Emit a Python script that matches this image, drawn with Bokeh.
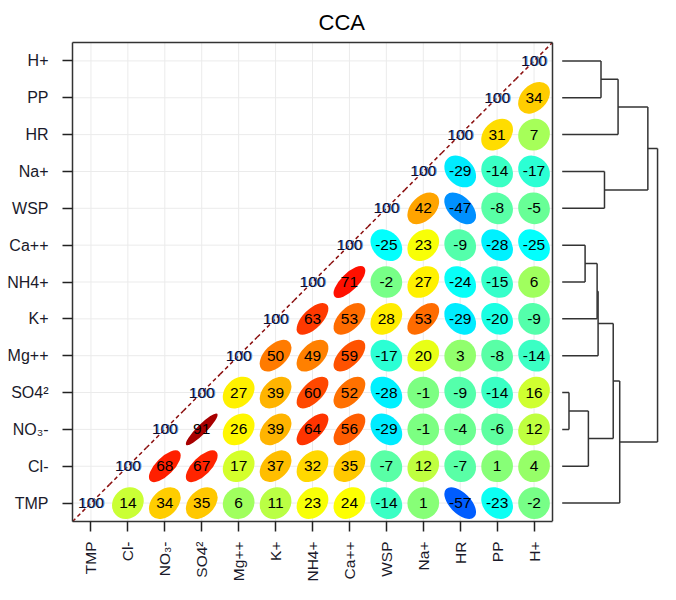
import numpy as np
from bokeh.plotting import figure
from bokeh.models import ColumnDataSource, Range1d, FixedTicker, LinearAxis, LinearColorMapper
from bokeh.transform import transform
from bokeh.core.properties import value
from bokeh.embed import file_html
from bokeh.resources import INLINE

# ---------------- data ----------------
variables = ["TMP", "Cl-", "NO₃-", "SO4²", "Mg++", "K+", "NH4+", "Ca++",
             "WSP", "Na+", "HR", "PP", "H+"]

# correlation x100; row i lists the values for columns i .. last
corr_rows = [
    [100, 14, 34, 35, 6, 11, 23, 24, -14, 1, -57, -23, -2],   # TMP
    [100, 68, 67, 17, 37, 32, 35, -7, 12, -7, 1, 4],          # Cl-
    [100, 91, 26, 39, 64, 56, -29, -1, -4, -6, 12],           # NO3-
    [100, 27, 39, 60, 52, -28, -1, -9, -14, 16],              # SO4
    [100, 50, 49, 59, -17, 20, 3, -8, -14],                   # Mg++
    [100, 63, 53, 28, 53, -29, -20, -9],                      # K+
    [100, 71, -2, 27, -24, -15, 6],                           # NH4+
    [100, -25, 23, -9, -28, -25],                             # Ca++
    [100, 42, -47, -8, -5],                                   # WSP
    [100, -29, -14, -17],                                     # Na+
    [100, 31, 7],                                             # HR
    [100, 34],                                                # PP
    [100],                                                    # H+
]

# hierarchical clustering merges: (member a, member b, height); cK = K-th merge
dend_merges = [
    ("SO4²", "NO₃-", 0.070),   # c0
    ("c0", "Cl-", 0.270),      # c1
    ("Ca++", "NH4+", 0.236),   # c2
    ("c2", "K+", 0.360),       # c3
    ("c3", "Mg++", 0.370),     # c4
    ("H+", "PP", 0.400),       # c5
    ("Na+", "WSP", 0.436),     # c6
    ("c4", "c1", 0.526),       # c7
    ("c5", "HR", 0.576),       # c8
    ("c7", "TMP", 0.593),      # c9
    ("c8", "c6", 0.883),       # c10
    ("c10", "c9", 0.983),      # c11
]

jet_stops = ["#00007F", "#0000FF", "#007FFF", "#00FFFF", "#7FFF7F",
             "#FFFF00", "#FF7F00", "#FF0000", "#7F0000"]


def interp_palette(stops, n):
    rgb = np.array([[int(s[k:k + 2], 16) for k in (1, 3, 5)] for s in stops], float)
    t = np.linspace(0, 1, len(stops))
    out = []
    for v in np.linspace(0, 1, n):
        c = [int(round(np.interp(v, t, rgb[:, m]))) for m in range(3)]
        out.append("#%02x%02x%02x" % tuple(c))
    return out


palette = interp_palette(jet_stops, 200)
cmap = LinearColorMapper(palette=palette, low=-1, high=1)

n = len(variables)

# ---------------- layout ----------------
W, H = 660, 584
ML, MR, MT, MB = 72, 1, 42, 62
frame_w = W - ML - MR
cell_px = (H - MT - MB) / n
x_end = -0.5 + frame_w / cell_px

p = figure(width=W, height=H, x_range=Range1d(-0.5, x_end), y_range=Range1d(-0.5, n - 0.5),
           output_backend="svg", toolbar_location=None,
           min_border_left=ML, min_border_right=MR, min_border_top=MT, min_border_bottom=MB,
           x_axis_location=None, y_axis_location=None)
p.outline_line_color = None
p.xgrid.visible = False
p.ygrid.visible = False

# dendrogram height scale (extra range)
leaf_px = n * cell_px + 9.7
px_per_unit = 97.0
d_start = -leaf_px / px_per_unit
p.extra_x_ranges = {"dend": Range1d(d_start, d_start + frame_w / px_per_unit)}

# title
p.title.text = "CCA"
p.title.text_font = "Liberation Sans"
p.title.text_font_size = "22px"
p.title.text_font_style = "normal"
p.title.text_color = "#000000"
p.title.align = "left"
p.title.offset = 246
p.title.standoff = 15

# ---------------- grid ----------------
idx = list(range(n))
grid_src = ColumnDataSource(dict(k=idx, lo=[-0.5] * n, hi=[n - 0.5] * n))
p.segment(x0="k", y0="lo", x1="k", y1="hi", source=grid_src, line_color="#ebebeb", line_width=1)
p.segment(x0="lo", y0="k", x1="hi", y1="k", source=grid_src, line_color="#ebebeb", line_width=1)

# ---------------- cells ----------------
cx, cy, cr, ctxt = [], [], [], []
dx, dy, dtxt = [], [], []
for i, row in enumerate(corr_rows):
    for k, v in enumerate(row):
        j = i + k
        if j == i:
            dx.append(j); dy.append(i); dtxt.append(str(v))
        else:
            cx.append(j); cy.append(i); cr.append(v / 100.0); ctxt.append(str(v))

cr_arr = np.array(cr)
cell_src = ColumnDataSource(dict(x=cx, y=cy, r=cr, label=ctxt,
                                 w=list(0.86 * np.sqrt(1 + cr_arr)),
                                 h=list(0.86 * np.sqrt(1 - cr_arr))))
diag_src = ColumnDataSource(dict(x=dx, y=dy, label=dtxt,
                                 x0=[v - 0.5 for v in dx], x1=[v + 0.5 for v in dx]))

p.ellipse(x="x", y="y", width="w", height="h", angle=np.pi / 4, source=cell_src,
          fill_color=transform("r", cmap), line_color=None)

p.segment(x0="x0", y0="x0", x1="x1", y1="x1", source=diag_src,
          line_color="#8b1010", line_width=1.5, line_dash="4 3")

p.text(x="x", y="y", text="label", source=cell_src, text_align="center",
       text_baseline="middle", text_font=value("Liberation Sans"),
       text_font_size="15.5px", text_color="#000000")
p.text(x="x", y="y", text="label", source=diag_src, text_align="center",
       text_baseline="middle", text_font=value("Liberation Sans"),
       text_font_size="15.5px", text_color="#5a8fe0", x_offset=1)
p.text(x="x", y="y", text="label", source=diag_src, text_align="center",
       text_baseline="middle", text_font=value("Liberation Sans"),
       text_font_size="15.5px", text_color="#0c0c28")

# right edge of matrix box
p.segment(x0=[n - 0.5], y0=[-0.5], x1=[n - 0.5], y1=[n - 0.5], line_color="#333333", line_width=1.5)

# ---------------- dendrogram ----------------
pos = {name: (0.0, float(k)) for k, name in enumerate(variables)}
sx0, sy0, sx1, sy1 = [], [], [], []
for k, (a, b, hgt) in enumerate(dend_merges):
    ha, ya = pos[a]
    hb, yb = pos[b]
    sx0 += [ha, hb, hgt]; sy0 += [ya, yb, ya]
    sx1 += [hgt, hgt, hgt]; sy1 += [ya, yb, yb]
    pos["c%d" % k] = (hgt, (ya + yb) / 2.0)
dend_src = ColumnDataSource(dict(x0=sx0, y0=sy0, x1=sx1, y1=sy1))
p.segment(x0="x0", y0="y0", x1="x1", y1="y1", source=dend_src, x_range_name="dend",
          line_color="#333333", line_width=1.5)

# ---------------- axes ----------------
labels = {i: v for i, v in enumerate(variables)}
common = dict(axis_line_color="#333333", axis_line_width=1.5,
              major_tick_line_color="#222222", major_tick_line_width=1.5,
              major_tick_out=10, major_tick_in=0, minor_tick_out=0, minor_tick_in=0,
              major_label_text_font="Liberation Sans",
              major_label_text_color="#1a1a2a")

yaxis = LinearAxis(ticker=FixedTicker(ticks=idx, minor_ticks=[]),
                   major_label_overrides=labels, major_label_text_font_size="16px",
                   major_label_standoff=14, **common)
p.add_layout(yaxis, "left")

xaxis = LinearAxis(ticker=FixedTicker(ticks=idx, minor_ticks=[]),
                   major_label_overrides=labels, bounds=(-0.5, n - 0.5),
                   major_label_orientation=np.pi / 2, major_label_text_font_size="15.5px",
                   major_label_standoff=10, **common)
p.add_layout(xaxis, "below")

top = LinearAxis(ticker=FixedTicker(ticks=[], minor_ticks=[]), bounds=(-0.5, n - 0.5),
                 axis_line_color="#333333", axis_line_width=1.5,
                 major_tick_out=0, major_tick_in=0, minor_tick_out=0, minor_tick_in=0,
                 major_label_text_font_size="0px", major_label_standoff=0)
p.add_layout(top, "above")

open("out.html", "w").write(file_html(p, INLINE))
